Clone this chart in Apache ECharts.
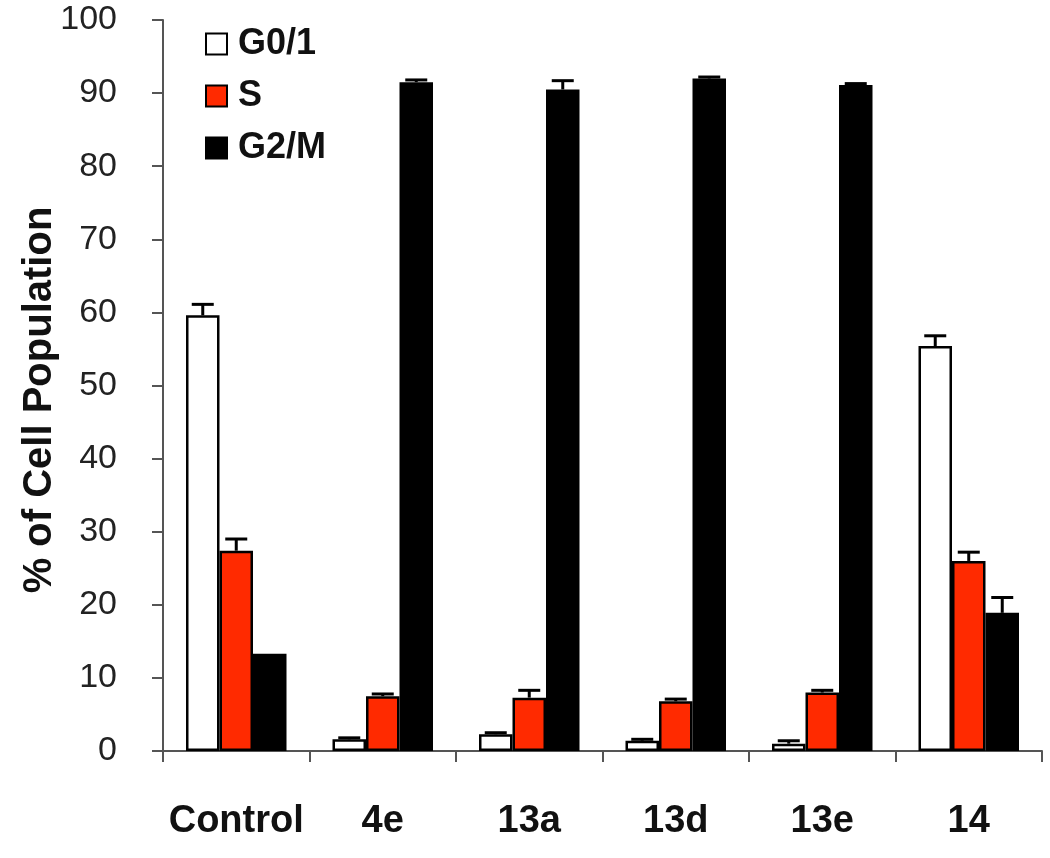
<!DOCTYPE html>
<html>
<head>
<meta charset="utf-8">
<script src="https://cdn.jsdelivr.net/npm/echarts@6/dist/echarts.min.js"></script>
<style>
html,body{margin:0;padding:0;background:#fff;}
#chart{width:1050px;height:858px;}
</style>
</head>
<body>
<div id="chart"></div>
<script>
const categories = ['Control', '4e', '13a', '13d', '13e', '14'];
const seriesNames = ['G0/1', 'S', 'G2/M'];
const g01 = [59.6, 1.6, 2.3, 1.4, 1.0, 55.4];
const g01Err = [1.5, 0.2, 0.2, 0.2, 0.4, 1.4];
const sPhase = [27.4, 7.5, 7.3, 6.8, 8.0, 26.0];
const sPhaseErr = [1.6, 0.3, 1.0, 0.3, 0.3, 1.2];
const g2m = [13.3, 91.5, 90.5, 92.0, 91.1, 18.9];
const g2mErr = [0, 0.3, 1.2, 0.2, 0.2, 2.1];
const yTicks = [0, 10, 20, 30, 40, 50, 60, 70, 80, 90, 100];
const yTitle = '% of Cell Population';

const BAR_W = 33.5;
const colors = ['#ffffff', '#ff2a00', '#000000'];
const values = [g01, sPhase, g2m];
const errs = [g01Err, sPhaseErr, g2mErr];

const chart = echarts.init(document.getElementById('chart'));

const barSeries = seriesNames.map((name, i) => ({
  name: name,
  type: 'bar',
  data: values[i],
  barWidth: BAR_W,
  barGap: '0%',
  itemStyle: { color: colors[i], borderColor: '#000', borderWidth: 2.5 },
  z: 2
}));

const errSeries = seriesNames.map((name, i) => ({
  type: 'custom',
  name: name + ' err',
  data: values[i].map((v, k) => [k, v, errs[i][k]]),
  encode: { x: 0, y: 1 },
  z: 5,
  silent: true,
  renderItem: function (params, api) {
    const k = api.value(0);
    const v = api.value(1);
    const e = api.value(2);
    if (!e) return null;
    const base = api.coord([k, v]);
    const top = api.coord([k, v + e]);
    const x = base[0] + (i - 1) * BAR_W;
    return {
      type: 'group',
      children: [
        { type: 'line', shape: { x1: x, y1: base[1], x2: x, y2: top[1] }, style: { stroke: '#000', lineWidth: 3 } },
        { type: 'line', shape: { x1: x - 11, y1: top[1], x2: x + 11, y2: top[1] }, style: { stroke: '#000', lineWidth: 3 } }
      ]
    };
  }
}));

chart.setOption({
  animation: false,
  backgroundColor: '#fff',
  grid: { left: 163, right: 8, top: 20, bottom: 107 },
  legend: {
    data: seriesNames,
    orient: 'vertical',
    left: 200,
    top: 21,
    itemWidth: 21,
    itemHeight: 21,
    itemGap: 16,
    icon: 'rect',
    textStyle: { fontFamily: 'Liberation Sans', fontWeight: 'bold', fontSize: 36, color: '#111', padding: [0, 0, 0, 6] }
  },
  graphic: [{
    type: 'text',
    x: 40,
    y: 400,
    rotation: Math.PI / 2,
    style: {
      text: yTitle,
      fontFamily: 'Liberation Sans',
      fontWeight: 'bold',
      fontSize: 40,
      fill: '#111',
      align: 'center',
      verticalAlign: 'middle'
    }
  }],
  xAxis: {
    type: 'category',
    data: categories,
    axisLine: { lineStyle: { color: '#555', width: 2 } },
    axisTick: { show: true, length: 11, lineStyle: { color: '#555', width: 2 } },
    axisLabel: { interval: 0, fontFamily: 'Liberation Sans', fontWeight: 'bold', fontSize: 38, color: '#111', margin: 52 }
  },
  yAxis: {
    type: 'value',
    min: yTicks[0],
    max: yTicks[yTicks.length - 1],
    interval: 10,
    splitLine: { show: false },
    axisLine: { show: true, lineStyle: { color: '#555', width: 2 } },
    axisTick: { show: true, length: 11, lineStyle: { color: '#555', width: 2 } },
    axisLabel: { fontFamily: 'Liberation Sans', fontSize: 34, color: '#222', margin: 46 }
  },
  series: barSeries.concat(errSeries)
});
</script>
</body>
</html>
